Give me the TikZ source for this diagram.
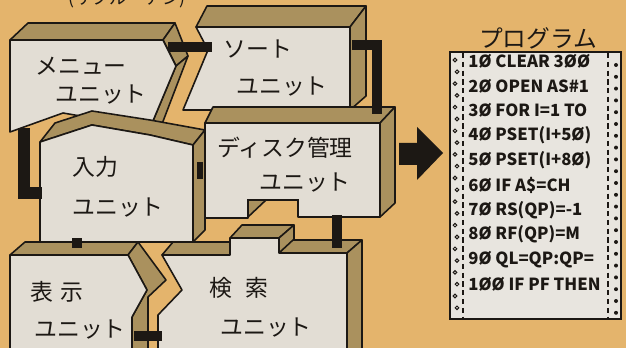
\documentclass[tikz,border=0pt]{standalone}
\usepackage{fontspec}
\setmainfont{Noto Sans CJK JP}
\usetikzlibrary{positioning}
\definecolor{Paper}{HTML}{E4B46C}
\definecolor{BoxFace}{HTML}{E2DDD4}
\definecolor{BoxSide}{HTML}{AA915E}
\definecolor{Ink}{HTML}{1C1814}
\definecolor{Sheet}{HTML}{E8E5DF}
\tikzset{
  face/.style={fill=BoxFace, draw=Ink, line width=0.9pt, line join=round},
  side/.style={fill=BoxSide, draw=Ink, line width=0.9pt, line join=round},
  link/.style={draw=Ink, line width=6pt, line join=miter},
  unitlabel/.style={font=\fontsize{13}{13}\selectfont, text=Ink, inner sep=0pt},
  codeline/.style={font=\fontsize{9.5}{10}\selectfont\bfseries, text=Ink, anchor=west, inner sep=0pt},
}
\begin{document}
\begin{tikzpicture}[x=0.02cm, y=-0.02cm]
\fill[Paper] (0,0) rectangle (626,348);
\useasboundingbox (0,0) rectangle (626,348);
\clip (0,0) rectangle (626,348);
\node[font=\fontsize{10}{10}\selectfont, text=Ink] (subtitle) at (127,-1) {(サブルーチン)};
% sort unit
\draw[side] (196,27) -- (207,6) -- (366,6) -- (350,27) -- cycle;
\draw[side] (350,27) -- (366,6) -- (366,96) -- (350,110) -- cycle;
\draw[face] (196,27) -- (350,27) -- (350,110) -- (183,110) -- (208,50) -- cycle;
\node[unitlabel] (sortA) at (258,49) {ソート};
\node[unitlabel] (sortB) at (282,87) {ユニット};
% menu unit
\draw[side] (10,40) -- (28,23) -- (175,23) -- (163,40) -- cycle;
\draw[side] (163,40) -- (175,23) -- (188,56) -- (176,66) -- cycle;
\draw[side] (176,66) -- (188,56) -- (162,124) -- (150,128) -- cycle;
\draw[face] (10,40) -- (163,40) -- (176,66) -- (150,128) -- (63,113) -- (10,132) -- cycle;
\node[unitlabel] (menuA) at (81,66) {メニュー};
\node[unitlabel] (menuB) at (101,95) {ユニット};
% search unit
\draw[side] (162,255) -- (173,242) -- (231,242) -- (230,255) -- cycle;
\draw[side] (230,238) -- (242,225) -- (294,225) -- (279,238) -- cycle;
\draw[side] (279,238) -- (294,225) -- (294,241) -- (279,253) -- cycle;
\draw[side] (279,253) -- (293,240) -- (362,240) -- (347,253) -- cycle;
\draw[side] (347,253) -- (362,240) -- (362,352) -- (347,352) -- cycle;
\draw[face] (162,255) -- (230,255) -- (230,238) -- (279,238) -- (279,253) -- (347,253)
  -- (347,352) -- (158,352) -- (158,315) -- (182,290) -- cycle;
\node[unitlabel] (searchA) at (239,288) {検\hspace{0.6em}索};
\node[unitlabel] (searchB) at (266,328) {ユニット};
% display unit
\draw[side] (10,255) -- (25,242) -- (138,242) -- (128,255) -- cycle;
\draw[side] (128,255) -- (138,242) -- (166,280) -- (148,297) -- (148,352) -- (132,352) -- (132,317) -- (147,290) -- cycle;
\draw[face] (10,255) -- (128,255) -- (147,290) -- (132,317) -- (132,352) -- (10,352) -- cycle;
\node[unitlabel] (dispA) at (57,292) {表\hspace{0.3em}示};
\node[unitlabel] (dispB) at (80,330) {ユニット};
% disk unit
\draw[side] (205,123) -- (213,107) -- (395,107) -- (380,123) -- cycle;
\draw[side] (380,123) -- (395,107) -- (395,203) -- (380,217) -- cycle;
\draw[face] (205,123) -- (380,123) -- (380,217) -- (298,217) -- (298,200) -- (248,200) -- (248,218) -- (205,218) -- cycle;
\fill[Paper] (249,200.5) rectangle (297.5,217.5);
\draw[side] (248,200) -- (266,200) -- (248,217) -- cycle;
\draw[Ink, line width=0.9pt] (248,218) -- (248,200) -- (298,200) -- (298,217);
\node[unitlabel] (diskA) at (285,148) {ディスク管理};
\node[unitlabel] (diskB) at (305,183) {ユニット};
% input unit
\draw[side] (40,142) -- (92,125) -- (150,135) -- (193,145) -- (205,130) -- (150,120) -- (92,111) -- (55,123) -- cycle;
\draw[side] (193,145) -- (205,130) -- (205,230) -- (193,242) -- cycle;
\draw[face] (40,142) -- (92,125) -- (150,135) -- (193,145) -- (193,242) -- (40,242) -- cycle;
\node[unitlabel] (inA) at (95,167) {入力};
\node[unitlabel] (inB) at (118,208) {ユニット};
% links
\coordinate (menuE) at (168,47);
\coordinate (sortW) at (212,47);
\coordinate (sortE) at (352,45);
\coordinate (diskN) at (377,114);
\coordinate (menuS) at (24,128);
\coordinate (inW) at (42,193);
\coordinate (inE) at (200,162);
\coordinate (diskW) at (200,179);
\coordinate (inS) at (77,238);
\coordinate (dispN) at (77,248);
\coordinate (dispE) at (134,336);
\coordinate (searchW) at (162,336);
\coordinate (diskS) at (337,215);
\coordinate (searchN) at (337,248);
\draw[link] (menuE) -- (sortW);
\draw[link] (sortE) -| (diskN);
\draw[link, line width=6.5pt] (menuS) |- (inW);
\draw[link, line width=3.5pt] (inE) -- (diskW);
\draw[link] (inS) -- (dispN);
\draw[link] (dispE) -- (searchW);
\draw[link] (diskS) -- (searchN);
% arrow
\fill[Ink] (399,143) -- (417,143) -- (417,127) -- (443,153) -- (417,180) -- (417,165) -- (399,165) -- cycle;
% program sheet
\node[font=\fontsize{13.5}{14}\selectfont, text=Ink, inner sep=0pt] (progtitle) at (538,38) {プログラム};
\draw[fill=Sheet, draw=Ink, line width=1.2pt] (450,52) rectangle (621,319);
\draw[Ink, line width=0.6pt, dash pattern=on 3pt off 2pt] (463,53) -- (463,318);
\draw[Ink, line width=0.6pt, dash pattern=on 3pt off 2pt] (608,53) -- (608,318);
\foreach \k in {0,...,21} {
  \pgfmathsetmacro{\hy}{60+\k*11.8}
  \pgfmathsetmacro{\hx}{455+mod(\k,2)*2}
  \draw[Ink, fill=Sheet, line width=0.6pt] (\hx,\hy) circle (1.8);
  \fill[Ink] (616,\hy+5) circle (2);
}
\foreach \i/\txt in {0/1Ø CLEAR 3ØØ, 1/2Ø OPEN AS\#1, 2/3Ø FOR I=1 TO, 3/4Ø PSET(I+5Ø),
  4/5Ø PSET(I+8Ø), 5/6Ø IF A\$=CH, 6/7Ø RS(QP)=-1, 7/8Ø RF(QP)=M, 8/9Ø QL=QP:QP=, 9/1ØØ IF PF THEN}
  \node[codeline] (code\i) at (468,61+\i*24.8) {\txt};
\end{tikzpicture}
\end{document}
